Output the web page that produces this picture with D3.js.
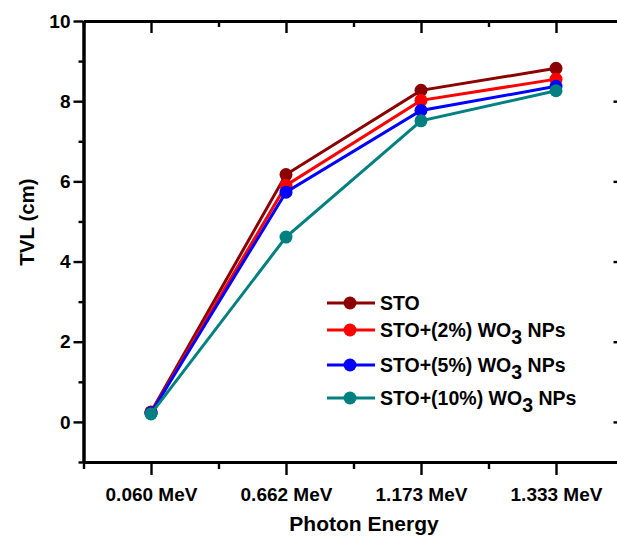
<!DOCTYPE html>
<html>
<head>
<meta charset="utf-8">
<script src="https://cdn.jsdelivr.net/npm/d3@7"></script>
<style>
  body { margin: 0; background: #fff; }
  svg { display: block; font-family: "Liberation Sans", Arial, sans-serif; font-weight: bold; }
</style>
</head>
<body>
<svg width="617" height="538"></svg>
<script>
// photon energies (categories) and TVL values (cm)
const energies = ["0.060 MeV", "0.662 MeV", "1.173 MeV", "1.333 MeV"];
const sto    = [0.25, 6.17, 8.27, 8.82];
const wo3_2  = [0.22, 5.9, 8.02, 8.55];
const wo3_5  = [0.22, 5.73, 7.77, 8.37];
const wo3_10 = [0.2, 4.61, 7.51, 8.26];
const yTicks = [0, 2, 4, 6, 8, 10];

const series = [
  { name: "STO", sub: null, color: "#8b0000", values: sto },
  { name: "STO+(2%) WO", sub: "3", tail: " NPs", color: "#ff0000", values: wo3_2 },
  { name: "STO+(5%) WO", sub: "3", tail: " NPs", color: "#0000ff", values: wo3_5 },
  { name: "STO+(10%) WO", sub: "3", tail: " NPs", color: "#008080", values: wo3_10 }
];

const svg = d3.select("svg");
const mLeft = 83.5, mRight = 623.5, mTop = 21, mBottom = 462;

const x = d3.scaleLinear().domain([0.5, 4.5]).range([mLeft, mRight]);
const y = d3.scaleLinear().domain([-1, 10]).range([mBottom, mTop]);

const xMajor = energies.map((d, i) => i + 1);
const xMinor = [0.5, 1.5, 2.5, 3.5, 4.5];
const yMinor = d3.range(-1, 10, 2);

// axes, Origin style: outward on left/bottom, inward on top/right
const axisStyle = g => {
  g.select(".domain").attr("stroke-width", 3);
  g.selectAll(".tick line").attr("stroke-width", 2.4);
};
const labelStyle = g => g.selectAll(".tick text").attr("font-size", 19)
  .attr("font-weight", "bold").attr("font-family", "Liberation Sans, Arial, sans-serif")
  .attr("fill", "#000");

svg.append("g").attr("transform", `translate(0,${mBottom})`)
  .call(d3.axisBottom(x).tickValues(xMajor).tickSize(13).tickSizeOuter(0)
    .tickFormat((d, i) => energies[i]))
  .call(axisStyle).call(labelStyle)
  .call(g => g.selectAll(".tick text").attr("y", 39).attr("dy", 0));
svg.append("g").attr("transform", `translate(0,${mBottom})`)
  .call(d3.axisBottom(x).tickValues(xMinor).tickSize(7).tickSizeOuter(0).tickFormat(""))
  .call(axisStyle);

svg.append("g").attr("transform", `translate(0,${mTop})`)
  .call(d3.axisTop(x).tickValues(xMajor).tickSize(-12).tickSizeOuter(0).tickFormat(""))
  .call(axisStyle);
svg.append("g").attr("transform", `translate(0,${mTop})`)
  .call(d3.axisTop(x).tickValues(xMinor).tickSize(-6).tickSizeOuter(0).tickFormat(""))
  .call(axisStyle);

svg.append("g").attr("transform", `translate(${mLeft},0)`)
  .call(d3.axisLeft(y).tickValues(yTicks).tickSize(10).tickSizeOuter(0).tickPadding(3))
  .call(axisStyle).call(labelStyle);
svg.append("g").attr("transform", `translate(${mLeft},0)`)
  .call(d3.axisLeft(y).tickValues(yMinor).tickSize(5).tickSizeOuter(0).tickFormat(""))
  .call(axisStyle);

svg.append("g").attr("transform", `translate(${mRight},0)`)
  .call(d3.axisRight(y).tickValues(yTicks).tickSize(-10).tickSizeOuter(0).tickFormat(""))
  .call(axisStyle);

// axis titles
svg.append("text").attr("x", 364).attr("y", 531).attr("text-anchor", "middle")
  .attr("font-size", 21).text("Photon Energy");
svg.append("text").attr("transform", "translate(34,222) rotate(-90)")
  .attr("text-anchor", "middle").attr("font-size", 20.5).text("TVL (cm)");

// data
const line = d3.line().x((d, i) => x(i + 1)).y(d => y(d));
series.forEach(s => {
  const g = svg.append("g");
  g.append("path").datum(s.values).attr("d", line)
    .attr("fill", "none").attr("stroke", s.color).attr("stroke-width", 3);
  g.selectAll("circle").data(s.values).join("circle")
    .attr("cx", (d, i) => x(i + 1)).attr("cy", d => y(d)).attr("r", 6.5)
    .attr("fill", s.color);
});

// legend
const legendY = [303, 330, 365, 398];
const leg = svg.append("g");
series.forEach((s, i) => {
  const ly = legendY[i];
  leg.append("line").attr("x1", 327).attr("x2", 375).attr("y1", ly).attr("y2", ly)
    .attr("stroke", s.color).attr("stroke-width", 3);
  leg.append("circle").attr("cx", 350).attr("cy", ly).attr("r", 6.5).attr("fill", s.color);
  const t = leg.append("text").attr("x", 380).attr("y", ly + 6.5).attr("font-size", 19.5);
  t.append("tspan").text(s.name);
  if (s.sub) {
    t.append("tspan").attr("dy", 7).text(s.sub);
    t.append("tspan").attr("dy", -7).text(s.tail);
  }
});
</script>
</body>
</html>
